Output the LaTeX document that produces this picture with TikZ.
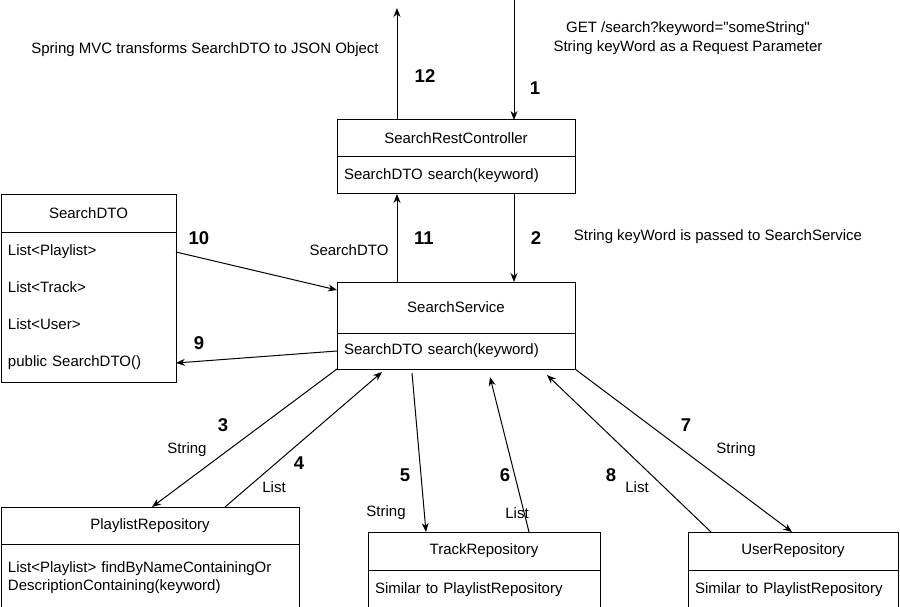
\documentclass[tikz,border=0pt]{standalone}
\usepackage{fontspec}
\setmainfont{Liberation Sans}[Ligatures=TeXOff]
\usetikzlibrary{positioning, arrows.meta}

\tikzset{
	hdr/.style={draw, outer sep=0pt, inner sep=0pt},
	body/.style={draw, outer sep=0pt, inner xsep=7pt, inner ysep=0pt, align=left},
	num/.style={font=\fontsize{18.5}{22}\selectfont\bfseries},
	lbl/.style={font=\fontsize{15}{19}\selectfont, align=center},
}

\begin{document}
\begin{tikzpicture}[x=1pt, y=-1pt, line width=1pt, font=\fontsize{15}{18}\selectfont, >={Stealth[length=9pt,width=7pt]}]
	\useasboundingbox (0,0) rectangle (900,607);

	\node (rc) at (456,138.5) [hdr,minimum width=238pt,minimum height=37pt] {SearchRestController};
	\node (rcbody) [body,text width=224pt,minimum height=37pt,below=0pt of rc] {SearchDTO search(keyword)};

	\node (ss) at (456,307.5) [hdr,minimum width=238pt,minimum height=51pt] {SearchService};
	\node (ssbody) [body,text width=224pt,minimum height=36pt,below=0pt of ss] {SearchDTO search(keyword)};

	\node (dto) at (88.5,213.5) [hdr,minimum width=175pt,minimum height=37pt] {SearchDTO};
	\node (dtobody) [body,text width=161pt,minimum height=150pt,below=0pt of dto,font=\fontsize{15}{37}\selectfont] {List<Playlist>\\List<Track>\\List<User>\\public SearchDTO()};

	\node (pl) at (150,525.5) [hdr,minimum width=298pt,minimum height=37pt] {PlaylistRepository};
	\node (plbody) [body,text width=284pt,minimum height=68pt,below=0pt of pl] {List<Playlist> findByNameContainingOr\\DescriptionContaining(keyword)};

	\node (tr) at (484,551) [hdr,minimum width=232pt,minimum height=38pt] {TrackRepository};
	\node (trbody) [body,text width=218pt,minimum height=40pt,below=0pt of tr] {Similar to PlaylistRepository};

	\node (ur) at (793,551) [hdr,minimum width=210pt,minimum height=38pt] {UserRepository};
	\node (urbody) [body,text width=196pt,minimum height=40pt,below=0pt of ur] {Similar to PlaylistRepository};

	\coordinate (out12) at (397,8);
	\coordinate (in1) at (514,0);

	\draw[->] ([xshift=-59pt]rc.north) -- (out12);
	\draw[->] (in1) -- ([xshift=58pt]rc.north);
	\draw[->] ([xshift=-59pt]ss.north) -- ([xshift=-59pt]rcbody.south);
	\draw[->] ([xshift=58pt]rcbody.south) -- ([xshift=58pt]ss.north);
	\draw[->] ([yshift=-20pt]dtobody.north east) -- ([yshift=-8pt]ss.north west);
	\draw[->] (ssbody.west) -- ([yshift=19pt]dtobody.south east);
	\draw[->] (ssbody.south west) -- ([xshift=2pt]pl.north);
	\draw[->] ([xshift=75pt]pl.north) -- ([xshift=-74pt,yshift=-3pt]ssbody.south);
	\draw[->] ([xshift=-44pt,yshift=-4pt]ssbody.south) -- ([xshift=-58pt]tr.north);
	\draw[->] ([xshift=45pt]tr.north) -- ([xshift=34pt,yshift=-8pt]ssbody.south);
	\draw[->] (ssbody.south east) -- ([xshift=-1pt]ur.north);
	\draw[->] ([xshift=-82pt]ur.north) -- ([xshift=91pt,yshift=-6pt]ssbody.south);

	%labels
	\node[lbl] (springlabel) at (205,50) {Spring MVC transforms SearchDTO to JSON Object};
	\node[lbl] (getlabel) at (688,38) {GET /search?keyword="someString"\\String keyWord as a Request Parameter};
	\node[lbl] (passlabel) at (718,237) {String keyWord is passed to SearchService};
	\node[lbl] (dtolabel) at (349,250) {SearchDTO};

	\node[num] (n12) at (425,76) {12};
	\node[num] (n1) at (535,88) {1};
	\node[num] (n11) at (424,238) {11};
	\node[num] (n2) at (536,238) {2};
	\node[num] (n10) at (199,238) {10};
	\node[num] (n9) at (199,343) {9};

	\node[num] (n3) at (223,425) {3};
	\node[lbl] (str3) at (187,450) {String};
	\node[num] (n4) at (299,463) {4};
	\node[lbl] (list4) at (274,487) {List};
	\node[num] (n5) at (405,475) {5};
	\node[lbl] (str5) at (386,513) {String};
	\node[num] (n6) at (505,475) {6};
	\node[lbl] (list6) at (517,513) {List};
	\node[num] (n7) at (686,425) {7};
	\node[lbl] (str7) at (736,450) {String};
	\node[num] (n8) at (611,475) {8};
	\node[lbl] (list8) at (637,487) {List};
\end{tikzpicture}
\end{document}
